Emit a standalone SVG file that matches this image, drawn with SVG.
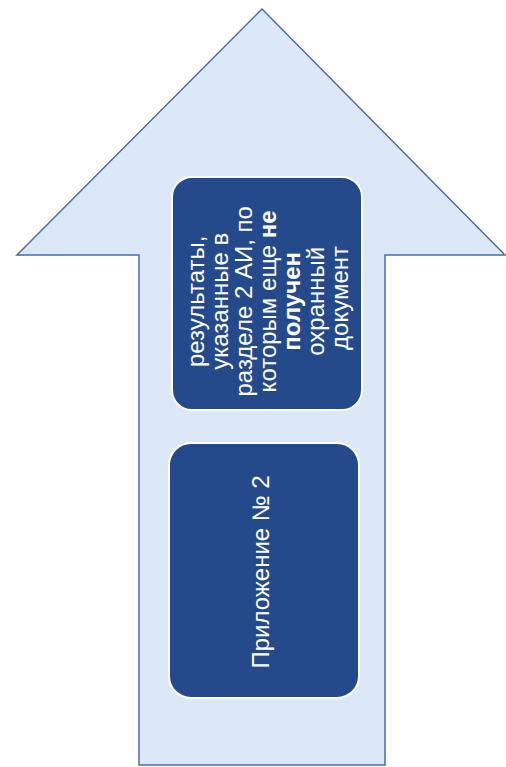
<svg xmlns="http://www.w3.org/2000/svg" width="506" height="767" viewBox="0 0 506 767">
<style>
.arrow{fill:#dce8f8;stroke:#4a6ca9;stroke-width:1.5}
.box{fill:#254a8c;stroke:#ffffff;stroke-width:2}
.t{font-family:"Liberation Sans",Arial,sans-serif;font-size:24px;fill:#ffffff;text-anchor:middle}
.b{font-weight:bold}
</style>
<rect width="506" height="767" fill="#ffffff"/>
<g id="arrow">
<path class="arrow" d="M262,9 L505,255 L385,255 L385,765 L139,765 L139,255 L17,255 Z"/>
</g>
<g id="connectors"></g>
<g id="node-results">
<rect class="box" x="172" y="177" width="190" height="233" rx="20" ry="20"/>
<text class="t" transform="translate(276,298) rotate(-90)">
<tspan x="0" y="-72">результаты,</tspan>
<tspan x="0" y="-48">указанные в</tspan>
<tspan x="0" y="-24">разделе 2 АИ, по</tspan>
<tspan x="0" y="0">которым еще <tspan class="b">не</tspan></tspan>
<tspan x="0" y="24" class="b">получен</tspan>
<tspan x="0" y="48">охранный</tspan>
<tspan x="0" y="72">документ</tspan>
</text>
</g>
<g id="node-appendix">
<rect class="box" x="169" y="443" width="190" height="255" rx="22" ry="22"/>
<text class="t" transform="translate(262,572) rotate(-90)" x="0" y="7">Приложение № 2</text>
</g>
</svg>
